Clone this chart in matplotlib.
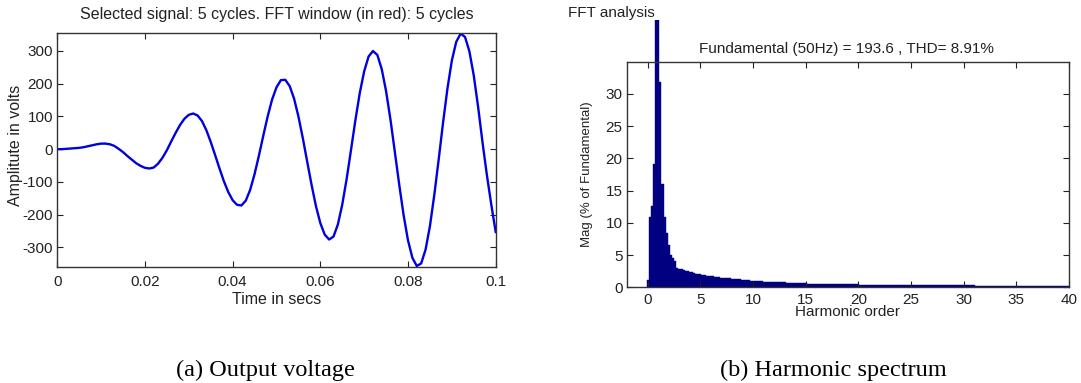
import numpy as np
import matplotlib
matplotlib.use('Agg')
import matplotlib.pyplot as plt
from matplotlib.patches import Rectangle

time_ms = list(range(0, 101))
volts = [0, 0, 1, 2, 3, 4, 6, 9, 12, 15,
         17, 17, 15, 10, 1, -9, -21, -32, -43, -51,
         -57, -59, -56, -44, -26, -3, 24, 50, 74, 93,
         105, 109, 103, 86, 58, 22, -18, -59, -98, -131,
         -156, -170, -172, -157, -124, -76, -19, 42, 101, 152,
         189, 211, 212, 193, 155, 100, 34, -38, -109, -174,
         -226, -261, -276, -267, -230, -169, -91, -2, 89, 172,
         238, 283, 300, 288, 245, 177, 90, -9, -109, -202,
         -279, -332, -357, -349, -307, -235, -139, -31, 82, 186,
         271, 328, 353, 343, 299, 225, 128, 20, -80, -170,
         -253]

# harmonic spectrum, bins of 0.2 harmonic order (10 Hz) from 0 to 40
bin_width = 0.2
mag = [1.2, 10.9, 12.6, 19.1, 45.0, 100.0, 31.8, 16.1, 10.9, 8.5,
       6.5, 5.0, 4.5, 4.1, 3.0, 2.9, 2.8, 2.7, 2.6, 2.5,
       2.4, 2.3, 2.2, 2.1, 2.05, 2.0, 1.95, 1.9, 1.8, 1.75,
       1.7, 1.68, 1.65, 1.6, 1.55, 1.52, 1.5, 1.45, 1.42, 1.38,
       1.35, 1.32, 1.3, 1.28, 1.25, 1.2, 1.15, 1.12, 1.1, 1.05,
       1.0, 0.95, 0.93, 0.91, 0.9, 0.89, 0.88, 0.87, 0.86, 0.85,
       0.78, 0.77, 0.76, 0.76, 0.75, 0.75, 0.74, 0.74, 0.73, 0.73,
       0.72, 0.72, 0.71, 0.71, 0.7, 0.7, 0.55, 0.55, 0.54, 0.54,
       0.53, 0.53, 0.53, 0.52, 0.52, 0.52, 0.51, 0.51, 0.51, 0.5,
       0.5, 0.5, 0.5, 0.5, 0.5, 0.5, 0.5, 0.5, 0.5, 0.5,
       0.5, 0.38, 0.38, 0.38, 0.38, 0.38, 0.37, 0.37, 0.37, 0.37,
       0.37, 0.37, 0.37, 0.36, 0.36, 0.36, 0.36, 0.36, 0.36, 0.36,
       0.36, 0.36, 0.36, 0.35, 0.35, 0.35, 0.35, 0.35, 0.35, 0.35,
       0.35, 0.35, 0.35, 0.35, 0.35, 0.35, 0.35, 0.35, 0.35, 0.35,
       0.35, 0.35, 0.35, 0.35, 0.35, 0.35, 0.35, 0.35, 0.35, 0.35,
       0.35, 0.28, 0.28, 0.28, 0.28, 0.28, 0.27, 0.27, 0.27, 0.27,
       0.27, 0.27, 0.27, 0.26, 0.26, 0.26, 0.26, 0.26, 0.26, 0.26,
       0.26, 0.26, 0.26, 0.25, 0.25, 0.25, 0.25, 0.25, 0.25, 0.25,
       0.25, 0.25, 0.25, 0.25, 0.25, 0.25, 0.25, 0.25, 0.25, 0.25,
       0.25, 0.25, 0.25, 0.25, 0.25, 0.25, 0.25, 0.25, 0.25, 0.25,
       0.25]

plt.rcParams['font.family'] = ['Liberation Sans', 'DejaVu Sans']
plt.rcParams['axes.unicode_minus'] = False
txt = '#222222'

W, H = 1081, 383
fig = plt.figure(figsize=(W / 100, H / 100), dpi=100)

def px_axes(x0, y0, x1, y1):
    return fig.add_axes([x0 / W, 1 - y1 / H, (x1 - x0) / W, (y1 - y0) / H])

def matlab_box(ax, size):
    ax.tick_params(direction='in', top=True, right=True, length=4, width=0.8,
                   labelsize=size, colors=txt)
    for s in ax.spines.values():
        s.set_linewidth(1.0)
        s.set_color('#333333')

# (a) output voltage
ax1 = px_axes(57.3, 33, 495.7, 267)
t = np.array(time_ms) / 1000.0
ax1.plot(t, volts, color='#0000e0', linewidth=1.7)
ax1.set_xlim(0, 0.1)
ax1.set_ylim(-360, 355)
ax1.set_xticks([0, 0.02, 0.04, 0.06, 0.08, 0.1])
ax1.set_xticklabels(['0', '0.02', '0.04', '0.06', '0.08', '0.1'])
ax1.set_yticks([-300, -200, -100, 0, 100, 200, 300])
matlab_box(ax1, 11)
ax1.tick_params(axis='x', pad=6)
ax1.tick_params(axis='y', pad=3)
ax1.set_xlabel('Time in secs', fontsize=11.5, color=txt)
ax1.xaxis.set_label_coords(0.5, -0.108)
ax1.set_ylabel('Amplitute in volts', fontsize=11.5, color=txt)
ax1.yaxis.set_label_coords(-0.078, 0.52)
fig.text(276.5 / W, 1 - 15 / H, 'Selected signal: 5 cycles. FFT window (in red): 5 cycles',
         ha='center', va='center', fontsize=11.5, color=txt)

# (b) harmonic spectrum
ax2 = px_axes(626.7, 61.7, 1069, 287.3)
order = np.arange(len(mag)) * bin_width
bars = ax2.bar(order, mag, width=bin_width, color='#000080', edgecolor='#000080',
               linewidth=0.3)
# the fundamental bar runs out of the axes, up to the "FFT analysis" line
clip = Rectangle((0, 0), 1, (287.3 - 20) / (287.3 - 61.7), transform=ax2.transAxes,
                 visible=False)
ax2.add_artist(clip)
for b in bars:
    b.set_clip_path(clip)
ax2.set_xlim(-2, 40)
ax2.set_ylim(0, 35)
ax2.set_xticks(range(0, 41, 5))
ax2.set_yticks(range(0, 31, 5))
matlab_box(ax2, 11)
ax2.tick_params(axis='x', pad=4)
ax2.tick_params(axis='y', pad=3)
ax2.set_xlabel('Harmonic order', fontsize=11, color=txt)
ax2.xaxis.set_label_coords(0.5, -0.078)
ax2.set_ylabel('Mag (% of Fundamental)', fontsize=9.5, color=txt)
ax2.yaxis.set_label_coords(-0.076, 0.5)
fig.text(568 / W, 1 - 12.7 / H, 'FFT analysis', ha='left', va='center',
         fontsize=11, color=txt)
fig.text(846 / W, 1 - 49 / H, 'Fundamental (50Hz) = 193.6 , THD= 8.91%',
         ha='center', va='center', fontsize=11, color=txt)

# captions
fig.text(265 / W, 1 - 370 / H, '(a) Output voltage', ha='center', va='center',
         fontsize=17.5, family='Liberation Serif', color='black')
fig.text(833 / W, 1 - 370 / H, '(b) Harmonic spectrum', ha='center', va='center',
         fontsize=17.5, family='Liberation Serif', color='black')

fig.savefig('out.png', dpi=100)
